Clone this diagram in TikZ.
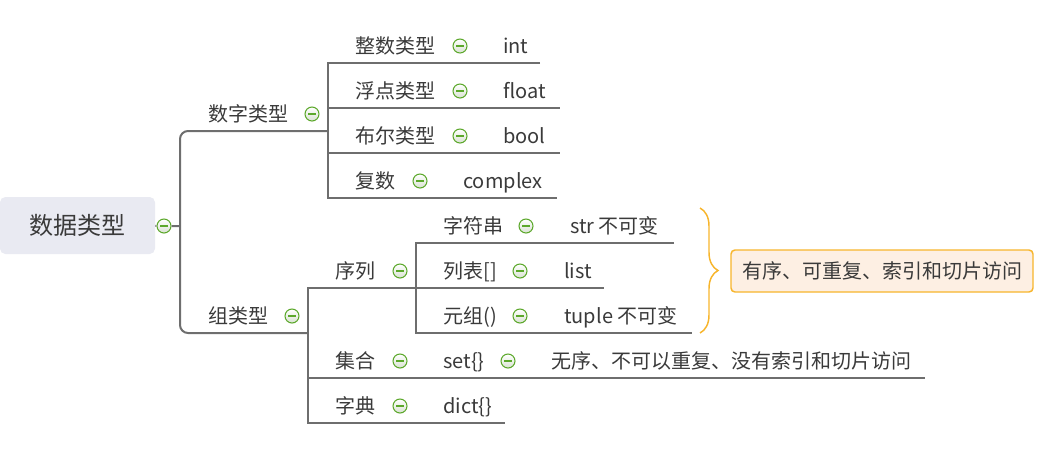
\documentclass[tikz,border=0pt]{standalone}
\usepackage{fontspec}
\setmainfont{Noto Sans CJK SC}
\usetikzlibrary{decorations.pathreplacing}
\definecolor{inkgray}{HTML}{3A3A3A}
\definecolor{linegray}{HTML}{6E6E6E}
\definecolor{rootfill}{HTML}{E9EAF2}
\definecolor{foldgreen}{HTML}{5CA82B}
\definecolor{foldshade}{HTML}{D9E2D2}
\definecolor{noteorange}{HTML}{F7B52C}
\definecolor{notefill}{HTML}{FDEFE3}
\tikzset{
  topic/.style={anchor=base west, inner sep=0pt, text=inkgray,
    font=\fontsize{15pt}{18pt}\selectfont},
  rootbox/.style={fill=rootfill, rounded corners=4pt, text=inkgray,
    minimum width=116.25pt, minimum height=42.75pt,
    font=\fontsize{18pt}{21pt}\selectfont},
  fold/.style={circle, draw=foldgreen, line width=0.8pt, top color=white,
    bottom color=foldshade, minimum size=10.5pt, inner sep=0pt,
    path picture={\draw[foldgreen, line width=0.8pt]
      ([xshift=-3pt]path picture bounding box.center) --
      ([xshift=3pt]path picture bounding box.center);}},
  branch/.style={draw=linegray, line width=1.5pt},
  note/.style={draw=noteorange, line width=1.1pt, fill=notefill,
    rounded corners=3pt, text=inkgray, minimum width=226.5pt,
    minimum height=31.5pt, font=\fontsize{15pt}{18pt}\selectfont},
}
\begin{document}
\begin{tikzpicture}[x=0.75pt, y=-0.75pt]
  \useasboundingbox (0,0) rectangle (1046,455);
  % root
  \node[rootbox] (root) at (77.5,225.5) {数据类型};
  \node[fold] (f-root) at (164,226) {};
  % first level
  \node[topic] (num) at (208,121.5) {数字类型};
  \node[fold] (f-num) at (312,114) {};
  \node[topic] (grp) at (208,323.5) {组类型};
  \node[fold] (f-grp) at (292,316) {};
  % numbers
  \node[topic] (int) at (355,53.5) {整数类型};
  \node[fold] (f-int) at (460,46) {};
  \node[topic] (int-v) at (503,53.5) {int};
  \node[topic] (flt) at (355,98.5) {浮点类型};
  \node[fold] (f-flt) at (460,91) {};
  \node[topic] (flt-v) at (503,98.5) {float};
  \node[topic] (bool) at (355,143.5) {布尔类型};
  \node[fold] (f-bool) at (460,136) {};
  \node[topic] (bool-v) at (503,143.5) {bool};
  \node[topic] (cpx) at (355,188.5) {复数};
  \node[fold] (f-cpx) at (420,181) {};
  \node[topic] (cpx-v) at (463,188.5) {complex};
  % groups
  \node[topic] (seq) at (335,278.5) {序列};
  \node[fold] (f-seq) at (400,271) {};
  \node[topic] (set) at (335,368.5) {集合};
  \node[fold] (f-set) at (400,361) {};
  \node[topic] (set-v) at (443,368.5) {set\{\}};
  \node[fold] (f-setv) at (508,361) {};
  \node[topic] (set-d) at (551,368.5) {无序、不可以重复、没有索引和切片访问};
  \node[topic] (dict) at (335,413.5) {字典};
  \node[fold] (f-dict) at (400,406) {};
  \node[topic] (dict-v) at (443,413.5) {dict\{\}};
  % sequences
  \node[topic] (str) at (443,233.5) {字符串};
  \node[fold] (f-str) at (526,226) {};
  \node[topic] (str-v) at (570,233.5) {str 不可变};
  \node[topic] (lst) at (443,278.5) {列表[]};
  \node[fold] (f-lst) at (520,271) {};
  \node[topic] (lst-v) at (564,278.5) {list};
  \node[topic] (tup) at (443,323.5) {元组()};
  \node[fold] (f-tup) at (520,316) {};
  \node[topic] (tup-v) at (564,323.5) {tuple 不可变};
  % note
  \node[note] (note) at (882,271) {有序、可重复、索引和切片访问};
  % line ends
  \coordinate (trunk) at (180,226);
  \coordinate (num-a) at (180,131);
  \coordinate (num-b) at (328,131);
  \coordinate (grp-a) at (180,333);
  \coordinate (grp-b) at (308,333);
  \coordinate (int-a) at (328,63);
  \coordinate (int-b) at (540,63);
  \coordinate (flt-a) at (328,108);
  \coordinate (flt-b) at (560,108);
  \coordinate (bool-a) at (328,153);
  \coordinate (bool-b) at (560,153);
  \coordinate (cpx-a) at (328,198);
  \coordinate (cpx-b) at (557,198);
  \coordinate (seq-a) at (308,288);
  \coordinate (seq-b) at (416,288);
  \coordinate (set-a) at (308,378);
  \coordinate (set-b) at (925,378);
  \coordinate (dict-a) at (308,423);
  \coordinate (dict-b) at (505,423);
  \coordinate (str-a) at (416,243);
  \coordinate (str-b) at (674,243);
  \coordinate (lst-b) at (604,288);
  \coordinate (tup-a) at (416,333);
  \coordinate (tup-b) at (692,333);
  \coordinate (br-t) at (700,208);
  \coordinate (br-b) at (700,333);
  \begin{scope}[branch]
    \draw (root) -- (f-root) -- (trunk);
    \draw[rounded corners=6pt] (num-b) -- (num-a) -- (grp-a) -- (grp-b);
    \draw (int-b) -- (int-a) -- (cpx-a) -- (cpx-b);
    \draw (flt-a) -- (flt-b);
    \draw (bool-a) -- (bool-b);
    \draw (seq-b) -- (seq-a) -- (dict-a) -- (dict-b);
    \draw (set-a) -- (set-b);
    \draw (str-b) -- (str-a) -- (tup-a) -- (tup-b);
    \draw (seq-b) -- (lst-b);
  \end{scope}
  \draw[noteorange, line width=1.1pt, decorate,
    decoration={brace, amplitude=13.5pt}] (br-t) -- (br-b);
\end{tikzpicture}
\end{document}
